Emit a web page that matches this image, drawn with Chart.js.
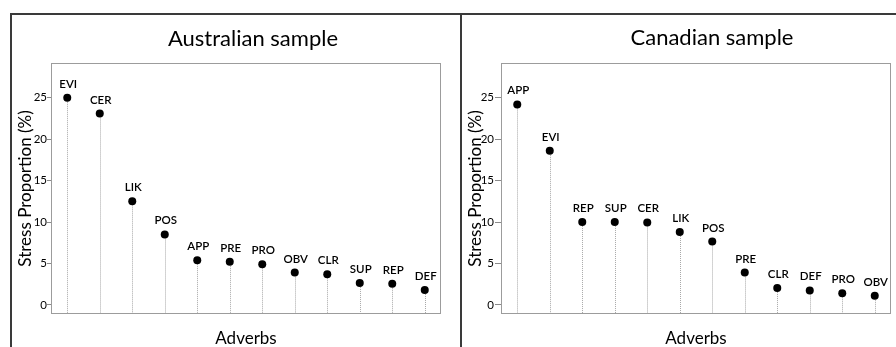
<!DOCTYPE html>
<html>
<head>
<meta charset="utf-8">
<script src="https://cdn.jsdelivr.net/npm/chart.js@4/dist/chart.umd.min.js"></script>
<style>
html,body{margin:0;padding:0;background:#fff;}
#wrap{position:relative;width:896px;height:347px;overflow:hidden;background:#fff;}
.cv{position:absolute;top:0;height:347px;}
.frame{position:absolute;background:#3a3a3a;z-index:2;}
.ttl{position:absolute;font-family:Lato,sans-serif;font-size:22px;line-height:1;color:#000;white-space:nowrap;transform:translateX(-50%);}
</style>
</head>
<body>
<div id="wrap">
  <div class="cv" style="left:0;width:460px;"><canvas id="c1"></canvas></div>
  <div class="cv" style="left:461px;width:435px;"><canvas id="c2"></canvas></div>
  <div class="frame" style="left:10px;top:13px;width:886px;height:2px;"></div>
  <div class="frame" style="left:10px;top:13px;width:2px;height:334px;"></div>
  <div class="frame" style="left:460px;top:13px;width:2px;height:334px;"></div>
  <div class="ttl" id="t1" style="left:253px;top:27px;"></div>
  <div class="ttl" id="t2" style="left:712px;top:26px;"></div>
</div>
<script>
// ---- data ----
const titleAus = "Australian sample";
const titleCan = "Canadian sample";
const xTitle = "Adverbs";
const yTitle = "Stress Proportion (%)";

const catsAus = ["EVI","CER","LIK","POS","APP","PRE","PRO","OBV","CLR","SUP","REP","DEF"];
const valsAus = [25.0, 23.1, 12.5, 8.5, 5.4, 5.2, 4.9, 3.9, 3.7, 2.65, 2.55, 1.8];

const catsCan = ["APP","EVI","REP","SUP","CER","LIK","POS","PRE","CLR","DEF","PRO","OBV"];
const valsCan = [24.2, 18.6, 10.0, 10.0, 9.95, 8.8, 7.65, 3.9, 2.05, 1.75, 1.4, 1.1];

const yMin = -1.1;
const yMax = 29.2;
const yStep = 5;

document.getElementById('t1').textContent = titleAus;
document.getElementById('t2').textContent = titleCan;

// plot frame (grey rectangle around chart area)
const boxPlugin = {
  id: 'box',
  beforeDatasetsDraw(chart) {
    const {ctx, chartArea: a} = chart;
    ctx.save();
    ctx.strokeStyle = '#9c9c9c';
    ctx.lineWidth = 1;
    ctx.strokeRect(Math.round(a.left) + 0.5, Math.round(a.top) + 0.5,
                   Math.round(a.right - a.left) - 1, Math.round(a.bottom - a.top) - 1);
    ctx.restore();
  }
};

// dotted stems from each point down to the bottom of the plot
const stemPlugin = {
  id: 'stems',
  beforeDatasetsDraw(chart) {
    const {ctx, chartArea: a} = chart;
    const meta = chart.getDatasetMeta(0);
    ctx.save();
    ctx.strokeStyle = '#a8a8a8';
    ctx.lineWidth = 1;
    ctx.setLineDash([1, 1]);
    meta.data.forEach(p => {
      const x = Math.round(p.x) + 0.5;
      ctx.beginPath();
      ctx.moveTo(x, p.y);
      ctx.lineTo(x, a.bottom - 1);
      ctx.stroke();
    });
    ctx.restore();
  }
};

// category labels above each point
const labelPlugin = {
  id: 'ptlabels',
  afterDatasetsDraw(chart) {
    const {ctx} = chart;
    const meta = chart.getDatasetMeta(0);
    ctx.save();
    ctx.fillStyle = '#000';
    ctx.font = '600 11.5px Lato, sans-serif';
    ctx.textAlign = 'center';
    ctx.textBaseline = 'alphabetic';
    meta.data.forEach((p, i) => {
      ctx.fillText(chart.data.labels[i], p.x + 1, p.y - 10);
    });
    ctx.restore();
  }
};

function makeChart(id, cats, vals, o) {
  return new Chart(document.getElementById(id), {
    type: 'line',
    data: {
      labels: cats,
      datasets: [{
        data: vals,
        showLine: false,
        pointRadius: 4,
        pointHoverRadius: 4,
        pointBackgroundColor: '#000',
        pointBorderColor: '#000',
        pointBorderWidth: 0
      }]
    },
    options: {
      responsive: true,
      maintainAspectRatio: false,
      animation: false,
      events: [],
      layout: { padding: { left: 0, right: o.padRight, top: 63, bottom: 0 } },
      plugins: { legend: { display: false }, tooltip: { enabled: false }, title: { display: false } },
      scales: {
        x: {
          type: 'category',
          offset: true,
          grid: { display: false },
          border: { display: false },
          ticks: { display: false },
          title: {
            display: true, text: xTitle, color: '#000',
            font: { family: 'Lato', size: 17, lineHeight: 1 },
            padding: { top: 0, bottom: 0 }
          },
          afterFit(s) { s.height = 33; }
        },
        y: {
          min: yMin, max: yMax,
          ticks: {
            stepSize: yStep, includeBounds: false, padding: o.tickPad,
            color: '#000', font: { family: 'Lato', size: 11.5 }
          },
          grid: { drawOnChartArea: false, drawTicks: true, tickLength: o.tickLen, color: '#8a8a8a' },
          border: { display: false },
          title: {
            display: true, text: yTitle, color: '#000',
            font: { family: 'Lato', size: 17, lineHeight: 1 },
            padding: { top: o.titlePad, bottom: 0 }
          },
          afterFit(s) { s.width = o.yWidth; }
        }
      }
    },
    plugins: [boxPlugin, stemPlugin, labelPlugin]
  });
}

makeChart('c1', catsAus, valsAus, { padRight: 19, yWidth: 51, tickPad: 0, tickLen: 4, titlePad: 17 });
makeChart('c2', catsCan, valsCan, { padRight: 5, yWidth: 40, tickPad: 1, tickLen: 6, titlePad: 6 });
</script>
</body>
</html>
